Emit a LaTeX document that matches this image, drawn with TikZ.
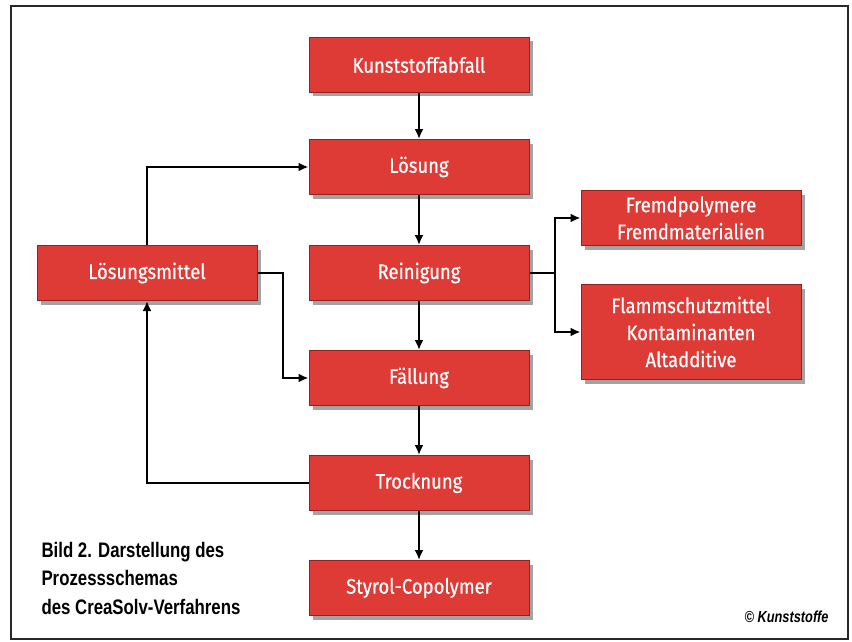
\documentclass[tikz,border=0pt]{standalone}
\usepackage{fontspec}
\setmainfont{Fira Sans}
\newfontfamily\boxfont[FakeStretch=0.88,FakeBold=0.6]{Fira Sans}
\newfontfamily\capfont[FakeStretch=0.8]{Liberation Sans}
\usetikzlibrary{arrows.meta,shadows}
\definecolor{boxred}{RGB}{222,58,54}
\definecolor{boxedge}{RGB}{150,32,30}
\definecolor{framec}{RGB}{40,40,40}
\tikzset{
  procbox/.style={rectangle, draw=boxedge, line width=1pt, fill=boxred,
    minimum width=220pt, minimum height=55pt, align=center,
    text=white, font=\boxfont\fontsize{21}{27}\selectfont,
    drop shadow={shadow xshift=4pt, shadow yshift=-4pt, fill=black!45, opacity=0.8}},
  conn/.style={draw=black, line width=2pt},
  arr/.style={conn, -{Latex[length=10pt,width=9pt]}},
}
\begin{document}
\begin{tikzpicture}[x=1pt,y=-1pt]
\useasboundingbox (0,0) rectangle (852,642);
\fill[white] (0,0) rectangle (852,642);
\draw[framec, line width=2pt] (11,6) rectangle (848,639);

\node[procbox] (K) at (419,65) {Kunststoffabfall};
\node[procbox] (L) at (419,167) {Lösung};
\node[procbox] (R) at (419,273) {Reinigung};
\node[procbox] (F) at (419,378) {Fällung};
\node[procbox] (T) at (419,483) {Trocknung};
\node[procbox] (S) at (419,588) {Styrol-Copolymer};
\node[procbox] (LM) at (147,273) {Lösungsmittel};
\node[procbox] (FP) at (691,218) {Fremdpolymere\\Fremdmaterialien};
\node[procbox, minimum height=95pt] (FS) at (691,332) {Flammschutzmittel\\Kontaminanten\\Altadditive};

\draw[arr] (K) -- (L);
\draw[arr] (L) -- (R);
\draw[arr] (R) -- (F);
\draw[arr] (F) -- (T);
\draw[arr] (T) -- (S);
\draw[arr] (LM.north) |- (L.west);
\draw[arr] (T.west) -| (LM.south);
\draw[arr] (LM.east) -- ++(25,0) |- (F.west);
\coordinate (br) at (555,273);
\draw[conn] (R.east) -- (br);
\draw[arr] (br) |- (FP.west);
\draw[arr] (br) |- (FS.west);

\node[anchor=west, align=left, font=\capfont\bfseries\fontsize{21}{28.5}\selectfont] (cap) at (38,578)
  {Bild 2. Darstellung des\\Prozessschemas\\des CreaSolv-Verfahrens};
\node[anchor=east, font=\capfont\bfseries\itshape\fontsize{16}{18}\selectfont] (copy) at (832,617) {© Kunststoffe};
\end{tikzpicture}
\end{document}
